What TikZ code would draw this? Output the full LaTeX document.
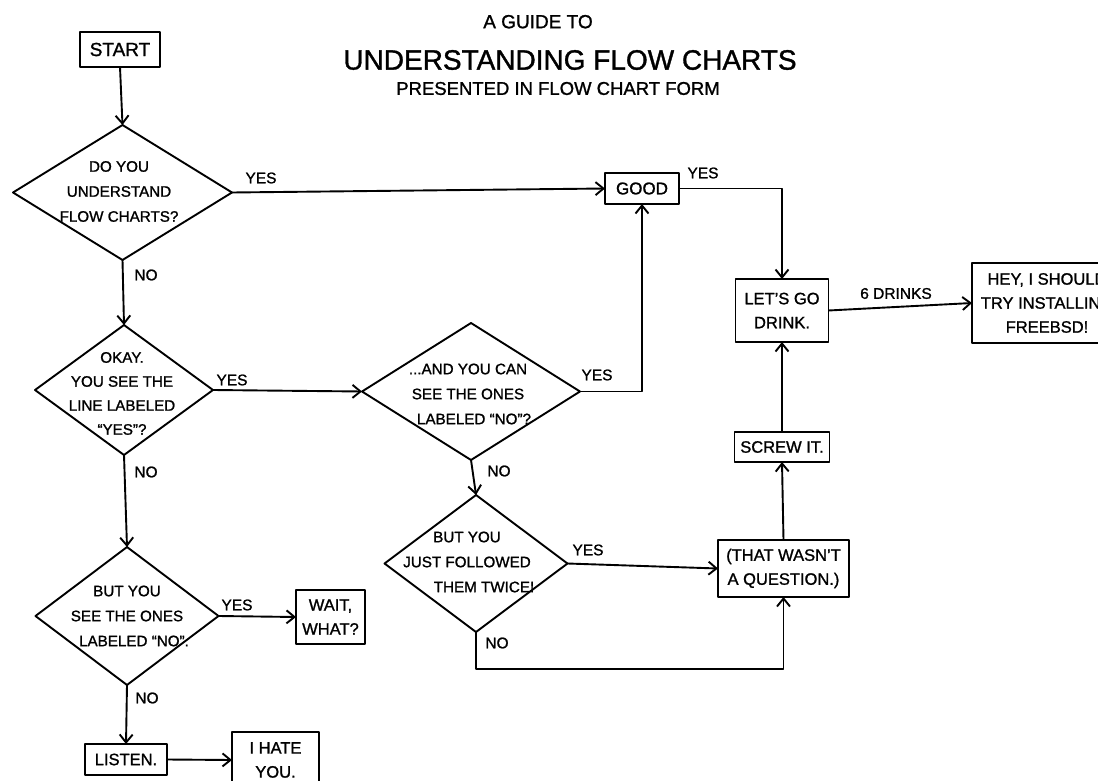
\documentclass[tikz,border=0pt]{standalone}
\usepackage{fontspec}
\setmainfont{Liberation Sans}[FakeBold=1.2]
\usetikzlibrary{shapes.geometric,arrows.meta}
\newcommand{\bxfont}{\fontsize{16.5}{24}\selectfont}
\newcommand{\dmfont}{\fontsize{15.2}{25}\selectfont}
\begin{document}
\begin{tikzpicture}[x=1pt,y=-1pt,line width=1.9pt,line join=round,
  every node/.style={inner sep=0pt,outer sep=0pt},
  dia/.style n args={2}{diamond,draw,minimum width=#1,minimum height=#2},
  box/.style n args={2}{rectangle,draw,minimum width=#1,minimum height=#2,align=center,font=\bxfont},
  dtxt/.style={align=center,font=\dmfont},
  lab/.style={font=\fontsize{15.5}{18}\selectfont},
  arr/.style={-{Straight Barb[length=8pt,width=13pt]}}]
\useasboundingbox (0,0) rectangle (1098,781);
\fill[white] (0,0) rectangle (1098,781);
\clip (0,0) rectangle (1098,781);

% title
\node[font=\fontsize{19}{22}\selectfont] (t1) at (538,21.7) {A GUIDE TO};
\node[font=\fontsize{28}{32}\selectfont] (t2) at (570,60) {UNDERSTANDING FLOW CHARTS};
\node[font=\fontsize{18.5}{22}\selectfont] (t3) at (558,88.5) {PRESENTED IN FLOW CHART FORM};

% boxes
\node[box={80}{35},font=\fontsize{19}{22}\selectfont] (start) at (120,49.5) {START};
\node[box={74}{31},font=\fontsize{17}{22}\selectfont] (good) at (642,188.5) {GOOD};
\node[box={93}{63}] (lets) at (782,310.5) {LET'S GO\\DRINK.};
\node[box={95}{30}] (screw) at (782,447) {SCREW IT.};
\node[box={131}{57}] (that) at (783.5,568.5) {(THAT WASN'T\\A QUESTION.)};
\node[box={150}{80}] (hey) at (1047,303) {HEY, I SHOULD\\TRY INSTALLING\\FREEBSD!};
\node[box={69}{54}] (wait) at (330.5,617) {WAIT,\\WHAT?};
\node[box={82}{31}] (listen) at (126,759.5) {LISTEN.};
\node[box={87}{56}] (ihate) at (275.5,760) {I HATE\\YOU.};

% diamonds
\node[dia={219}{135}] (d1) at (122.5,192.5) {};
\node[dtxt] (d1t) at (119,191.5) {DO YOU\\UNDERSTAND\\FLOW CHARTS?};
\node[dia={178}{130}] (d2) at (124,390) {};
\node[dtxt,font=\fontsize{15.2}{24}\selectfont] (d2t) at (122,393.5) {OKAY.\\YOU SEE THE\\LINE LABELED\\``YES''?};
\node[dia={218}{137}] (d3) at (471,391.5) {};
\node[dtxt] (d3t) at (468,394) {...AND YOU CAN\\SEE THE ONES\\\hspace*{12pt}LABELED ``NO''?};
\node[dia={183}{137}] (d4) at (476,563.5) {};
\node[dtxt] (d4t) at (467,562) {BUT YOU\\JUST FOLLOWED\\\hspace*{34pt}THEM TWICE!};
\node[dia={183}{138}] (d5) at (127,616) {};
\node[dtxt] (d5t) at (127,616) {BUT YOU\\SEE THE ONES\\\hspace*{14pt}LABELED ``NO''.};

% connectors
\draw[arr] (start.south) -- (d1.north);
\draw[arr] (d1.east) -- (good.west);
\draw[arr] (d1.south) -- (d2.north);
\draw[arr] (d2.east) -- (d3.west);
\draw[arr] (d2.south) -- (d5.north);
\draw[arr] (d5.east) -- (wait.west);
\draw[arr] (d5.south) -- (listen.north);
\draw[arr] (listen.east) -- (ihate.west);
\draw[arr] (d3.east) -| (good.south);
\draw[arr] (d3.south) -- (d4.north);
\draw[arr] (d4.east) -- (that.west);
\draw[arr] (d4.south) -- ++(0,37) -| (that.south);
\draw[arr] (that.north) -- (screw.south);
\draw[arr] (screw.north) -- (lets.south);
\draw[arr] (good.east) -| (lets.north);
\draw[arr] (lets.east) -- (hey.west);

% connector labels
\node[lab] (l1) at (261,178) {YES};
\node[lab] (l2) at (146,275) {NO};
\node[lab] (l3) at (232,380) {YES};
\node[lab] (l4) at (146,472) {NO};
\node[lab] (l5) at (237,605) {YES};
\node[lab] (l6) at (147,698) {NO};
\node[lab] (l7) at (597,375) {YES};
\node[lab] (l8) at (499,471) {NO};
\node[lab] (l9) at (588,550) {YES};
\node[lab] (l10) at (497,643) {NO};
\node[lab] (l11) at (703,173) {YES};
\node[lab] (l12) at (896,293.5) {6 DRINKS};
\end{tikzpicture}
\end{document}
